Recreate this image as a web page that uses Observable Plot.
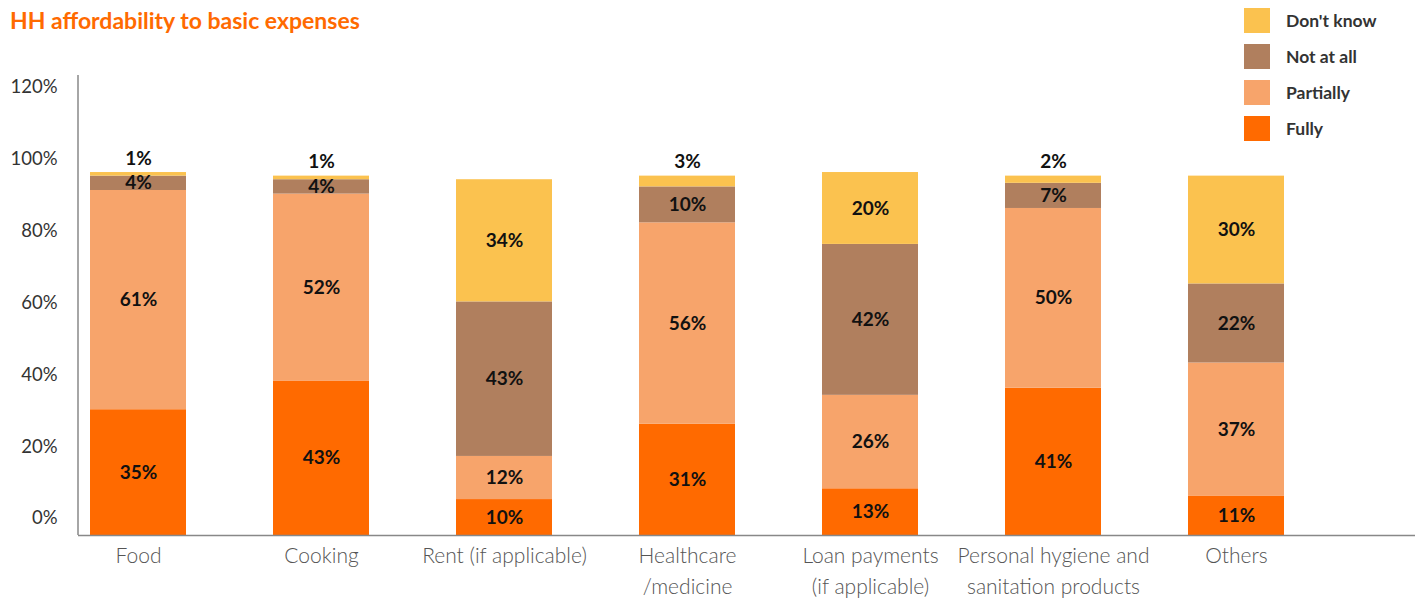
<!DOCTYPE html>
<html><head><meta charset="utf-8">
<script src="https://cdn.jsdelivr.net/npm/d3@7"></script>
<script src="https://cdn.jsdelivr.net/npm/@observablehq/plot@0.6"></script>
<style>
body{margin:0;background:#fff;font-family:Lato,"Open Sans",sans-serif;}
#wrap{position:relative;width:1422px;height:601px;overflow:hidden;}
#title{position:absolute;left:10px;top:6px;font-size:23px;font-weight:700;color:#FF6A00;z-index:2;}
#legend{position:absolute;left:1244px;top:8px;display:flex;flex-direction:column;gap:11px;z-index:2;}
.item{display:flex;align-items:center;height:25px;}
.sw{width:26px;height:25px;margin-right:16px;}
.lb{font-size:17.5px;font-weight:700;color:#333;}
#chart{position:absolute;left:0;top:0;}
#chart svg{overflow:visible;}
</style>
</head><body>
<div id="wrap">
  <div id="title">HH affordability to basic expenses</div>
  <div id="legend"></div>
  <div id="chart"></div>
</div>
<script>
const categories = ["Food","Cooking","Rent (if applicable)","Healthcare\n/medicine","Loan payments\n(if applicable)","Personal hygiene and\nsanitation products","Others"];
const series = ["Fully","Partially","Not at all","Don't know"];
const colors = ["#FF6A00","#F7A46B","#B07F5E","#FBC24F"];
const fully     = [35,43,10,31,13,41,11];
const partially = [61,52,12,56,26,50,37];
const notAtAll  = [4,4,43,10,42,7,22];
const dontKnow  = [1,1,34,3,20,2,30];
const yTicks = [0,20,40,60,80,100,120];
const yDomain = [0,128];

const seriesValues = [fully, partially, notAtAll, dontKnow];
const data = [];
categories.forEach((c,i) => {
  series.forEach((s,j) => data.push({cat:c, series:s, value:seriesValues[j][i]}));
});
const isAbove = d => d.series === "Don't know" && d.value <= 3;

// legend (top to bottom: reversed series order)
const legend = document.getElementById("legend");
series.slice().reverse().forEach(s => {
  const it = document.createElement("div"); it.className="item";
  const sw = document.createElement("div"); sw.className="sw"; sw.style.background = colors[series.indexOf(s)];
  const lb = document.createElement("div"); lb.className="lb"; lb.textContent = s;
  it.appendChild(sw); it.appendChild(lb); legend.appendChild(it);
});

const yAxisLine = (index, scales, values, dims) => {
  return d3.create("svg:line")
    .attr("x1", dims.marginLeft).attr("x2", dims.marginLeft)
    .attr("y1", scales.y(yDomain[0])).attr("y2", scales.y(yDomain[1]))
    .attr("stroke", "#888").attr("stroke-width", 1.5).node();
};

const chart = Plot.plot({
  width:1422, height:601,
  marginLeft:78, marginRight:7, marginTop:75, marginBottom:66,
  style:{fontFamily:"Lato, 'Open Sans', sans-serif", background:"transparent", overflow:"visible"},
  x:{domain:categories, paddingInner:0.476, paddingOuter:0.387, align:0.085, label:null},
  y:{domain:yDomain, label:null},
  color:{domain:series, range:colors},
  marks:[
    Plot.axisY({ticks:yTicks, tickSize:0, tickPadding:21, dy:-17, tickFormat:d => d + "%", fontSize:18.5, fill:"#333", label:null}),
    Plot.axisX({tickSize:0, tickPadding:5, fontSize:21, fontWeight:300, fill:"#555", lineHeight:1.5, label:null}),
    Plot.barY(data, {x:"cat", y:"value", fill:"series"}),
    Plot.ruleY([0], {stroke:"#888", strokeWidth:1.5}),
    yAxisLine,
    Plot.text(data, Plot.stackY({x:"cat", y:"value", z:"series",
      text: d => isAbove(d) ? "" : d.value + "%", fontSize:19, fontWeight:700, fill:"#111"})),
    Plot.text(data, Plot.stackY2({x:"cat", y:"value", z:"series",
      text: d => isAbove(d) ? d.value + "%" : "", dy:-14, fontSize:19, fontWeight:700, fill:"#111"}))
  ]
});
document.getElementById("chart").appendChild(chart);
</script>
</body></html>
